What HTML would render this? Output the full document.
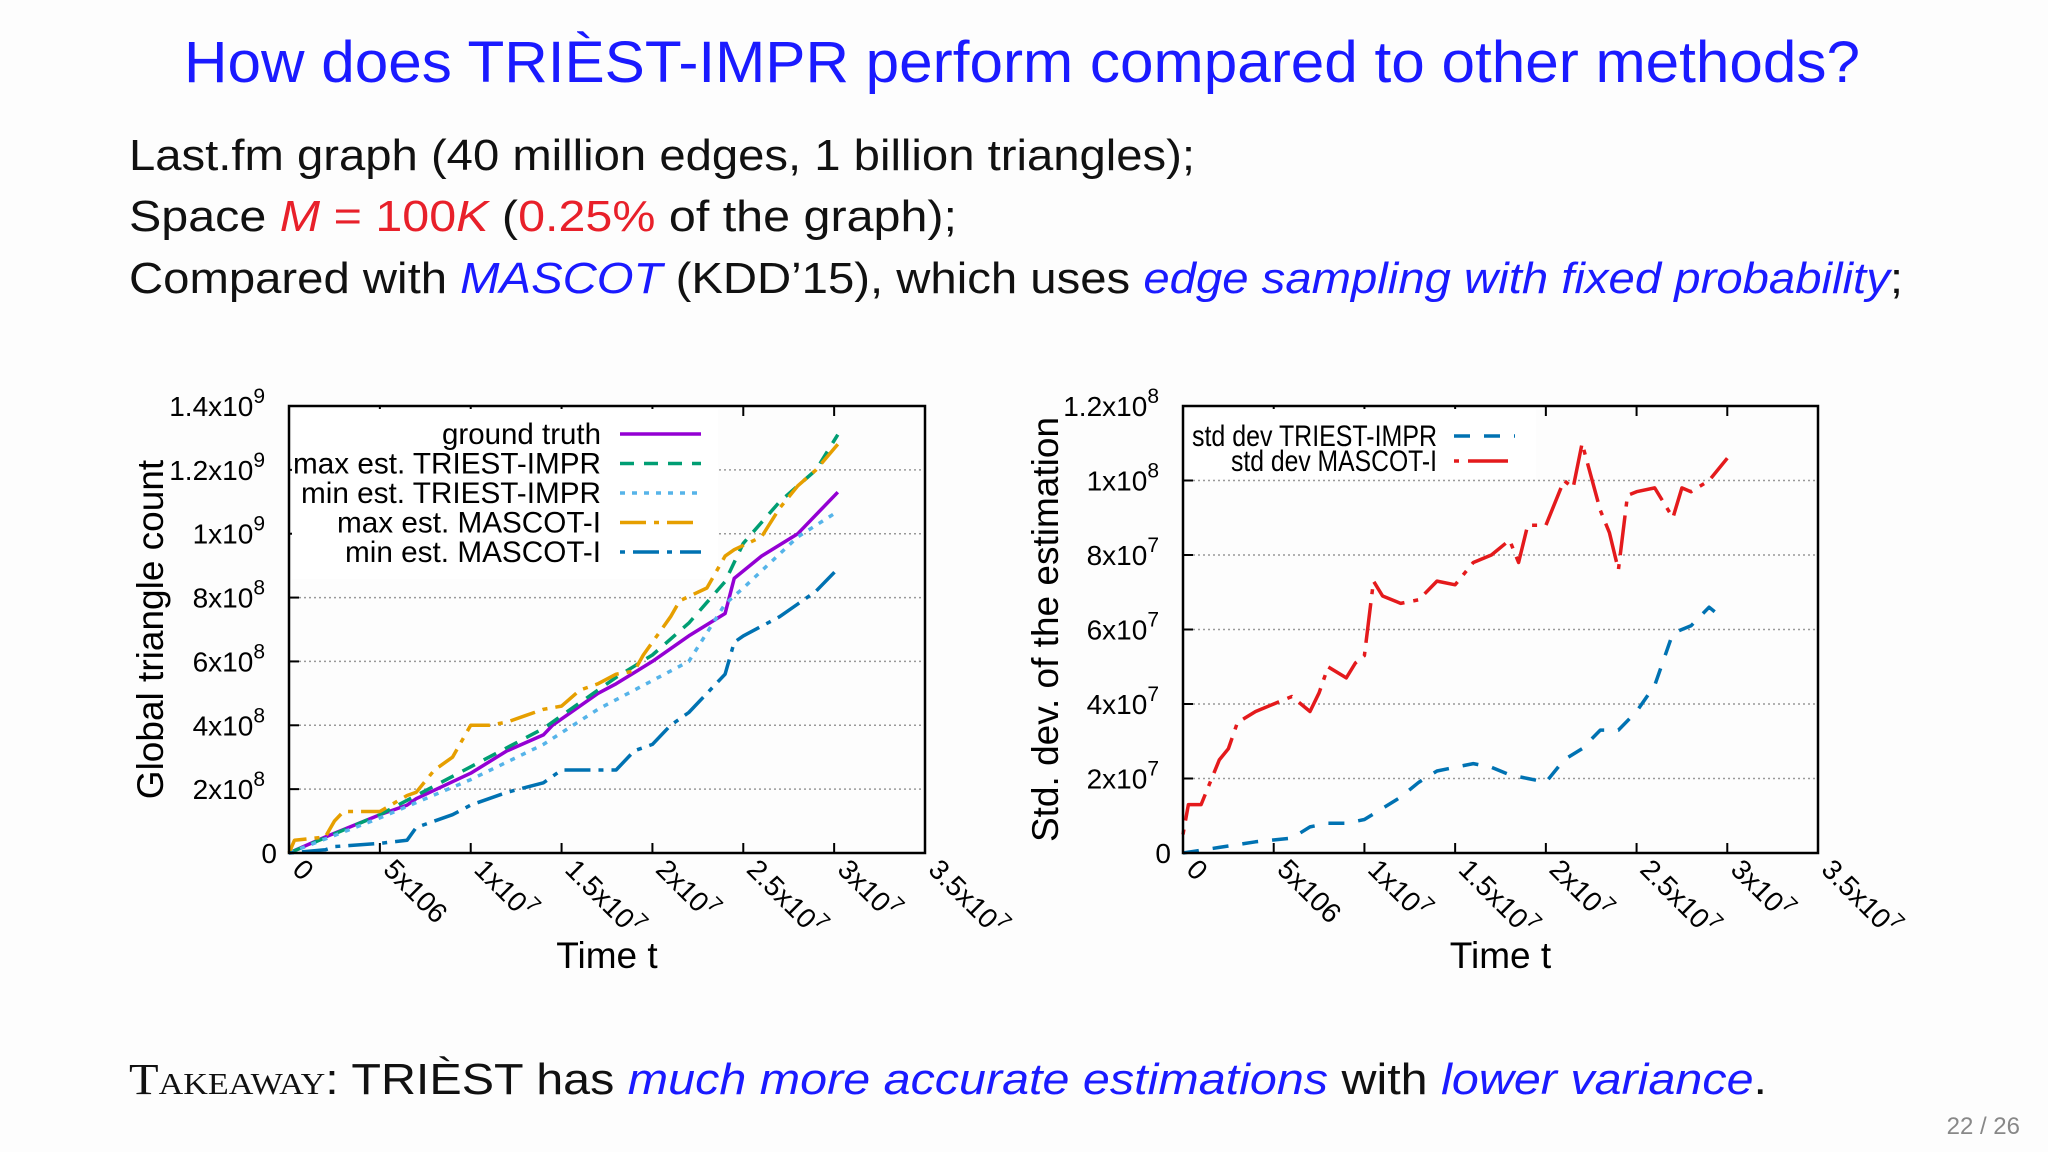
<!DOCTYPE html>
<html><head><meta charset="utf-8">
<style>
html,body{margin:0;padding:0;background:#fff;}
svg{display:block;}
text{font-family:"Liberation Sans",sans-serif;}
</style></head>
<body>
<svg id="slide" width="2048" height="1152" viewBox="0 0 2048 1152" xmlns="http://www.w3.org/2000/svg">
<rect width="2048" height="1152" fill="#fdfdfd"/>
<text x="184" y="82" font-size="58" fill="#1a1aff" textLength="1676" lengthAdjust="spacingAndGlyphs">How does TRIÈST-IMPR perform compared to other methods?</text>
<text x="129" y="170" font-size="44" fill="#111" textLength="1066" lengthAdjust="spacingAndGlyphs">Last.fm graph (40 million edges, 1 billion triangles);</text>
<text x="129" y="231" font-size="44" fill="#111" textLength="828" lengthAdjust="spacingAndGlyphs">Space <tspan fill="#e8202a" font-style="italic">M</tspan><tspan fill="#e8202a"> = 100</tspan><tspan fill="#e8202a" font-style="italic">K</tspan> (<tspan fill="#e8202a">0.25%</tspan> of the graph);</text>
<text x="129" y="293" font-size="44" fill="#111" textLength="1774" lengthAdjust="spacingAndGlyphs">Compared with <tspan fill="#1a1aff" font-style="italic">MASCOT</tspan> (KDD’15), which uses <tspan fill="#1a1aff" font-style="italic">edge sampling with fixed probability</tspan>;</text>
<text x="129" y="1094" font-size="44" fill="#111" textLength="1638" lengthAdjust="spacingAndGlyphs"><tspan font-family="Liberation Serif, serif" font-variant="small-caps">Takeaway</tspan>: TRIÈST has <tspan fill="#1a1aff" font-style="italic">much more accurate estimations</tspan> with <tspan fill="#1a1aff" font-style="italic">lower variance</tspan>.</text>
<text x="2020" y="1134" font-size="24" fill="#888" text-anchor="end">22 / 26</text>
<g id="left"></g>
<g id="right"></g>
</svg>
<script>
// Left chart data (time in units of 1e6, counts in 1e9)
const gtT = [0,2,5,6.5,7,10,12,14,14.5,17,18,20,22,24,24.5,26,28,30.2];
const gtV = [0,0.05,0.12,0.15,0.17,0.25,0.32,0.37,0.4,0.5,0.53,0.6,0.68,0.75,0.86,0.93,1.0,1.13];
const maxTrT = [0,5,10,14,16,18,20,22,24,25,27,29,30.2];
const maxTrV = [0,0.12,0.27,0.39,0.47,0.55,0.62,0.72,0.85,0.97,1.1,1.2,1.31];
const minTrT = [0,5,10,14,17,20,22,24,25,28,30.2];
const minTrV = [0,0.11,0.23,0.34,0.45,0.54,0.6,0.78,0.83,0.99,1.07];
const maxMaT = [0,0.3,2,2.5,3,5,6.5,7,8,9,10,11,12,13,14,15,16,17,18,19,19.5,21,21.5,23,24,24.5,26,27,28,29,30.2];
const maxMaV = [0,0.04,0.05,0.1,0.13,0.13,0.18,0.19,0.26,0.3,0.4,0.4,0.41,0.43,0.45,0.46,0.51,0.53,0.56,0.57,0.62,0.74,0.79,0.83,0.93,0.95,0.99,1.08,1.15,1.2,1.28];
const minMaT = [0,2,2.5,5,6.5,7,9,10,11,12,14,15,18,19,20,21,22,23,24,24.5,25,27,28,29,30.2];
const minMaV = [0,0.01,0.02,0.03,0.04,0.08,0.12,0.15,0.17,0.19,0.22,0.26,0.26,0.32,0.34,0.4,0.44,0.5,0.56,0.66,0.68,0.74,0.78,0.82,0.89];
const leftYTicks = [0,0.2,0.4,0.6,0.8,1.0,1.2,1.4];
const leftYLabels = [["0",""],["2x10","8"],["4x10","8"],["6x10","8"],["8x10","8"],["1x10","9"],["1.2x10","9"],["1.4x10","9"]];
// Right chart data (time 1e6, std dev 1e7)
const redT = [0,0.3,1,1.5,2,2.5,3,4,5,6,6.5,7,7.5,8,9,9.5,10,10.5,11,12,13,14,15,16,17,18,18.5,19,20,21,21.5,22,23,23.5,24,24.5,25,26,27,27.5,28,29,30];
const redV = [0.5,1.3,1.3,1.9,2.5,2.8,3.5,3.8,4.0,4.2,4.0,3.8,4.3,5.0,4.7,5.1,5.3,7.3,6.9,6.7,6.8,7.3,7.2,7.8,8.0,8.4,7.8,8.8,8.8,10.0,9.8,11.0,9.2,8.6,7.6,9.6,9.7,9.8,9.0,9.8,9.7,10.0,10.6];
const blueT = [0,2,4,6,7,8,9,10,11,12,13,14,15,16,17,18,19,20,21,22,23,24,25,26,27,28,29,29.5];
const blueV = [0,0.15,0.3,0.4,0.7,0.8,0.8,0.9,1.2,1.5,1.9,2.2,2.3,2.4,2.3,2.1,2.0,1.9,2.5,2.8,3.3,3.3,3.8,4.5,5.9,6.1,6.6,6.4];
const rightYTicks = [0,2,4,6,8,10,12];
const rightYLabels = [["0",""],["2x10","7"],["4x10","7"],["6x10","7"],["8x10","7"],["1x10","8"],["1.2x10","8"]];
const xTicks = [0,5,10,15,20,25,30,35];
const xLabels = [["0",""],["5x106",""],["1x10","7"],["1.5x10","7"],["2x10","7"],["2.5x10","7"],["3x10","7"],["3.5x10","7"]];

const NS = "http://www.w3.org/2000/svg";
function mk(tag, attrs, parent){const e=document.createElementNS(NS,tag);for(const k in attrs)e.setAttribute(k,attrs[k]);parent.appendChild(e);return e;}

function chart(g, box, yMax, yTicks, yLabels, yTitle, yTitleX, series, legend){
  const sx = t => box.x0 + (t/35)*(box.x1-box.x0);
  const sy = v => box.y1 - (v/yMax)*(box.y1-box.y0);
  yTicks.forEach((v,i)=>{
    if(i>0 && i<yTicks.length-1){
      const gl=mk('line',{x1:box.x0,x2:box.x1,y1:sy(v),y2:sy(v),stroke:'#999','stroke-width':1.5,'stroke-dasharray':'2,3'},g);
      
      
    }
    const tk=mk('line',{x1:box.x0,x2:box.x0+10,y1:sy(v),y2:sy(v),stroke:'#000','stroke-width':2},g);
    
    
    const tx=mk('text',{x:box.x0-12,y:sy(v)+10,'font-size':28,'text-anchor':'end',fill:'#000'},g);
    
    
    tx.textContent=yLabels[i][0];
    if(yLabels[i][1]){
      const sp=mk('tspan',{dy:-13,'font-size':21},tx); sp.textContent=yLabels[i][1];
      tx.setAttribute('x',box.x0-24);
    }
  });
  xTicks.forEach((t,i)=>{
    const tk=mk('line',{x1:sx(t),x2:sx(t),y1:box.y1,y2:box.y1-10,stroke:'#000','stroke-width':2},g);
    
    
    const tk2=mk('line',{x1:sx(t),x2:sx(t),y1:box.y0,y2:box.y0+10,stroke:'#000','stroke-width':2},g);
    
    
    const tx=mk('text',{x:0,y:0,'font-size':28,fill:'#000',transform:`translate(${sx(t)+2},${box.y1+18}) rotate(45)`},g);
    
    
    tx.textContent=xLabels[i][0];
    if(xLabels[i][1]){const sp=mk('tspan',{dy:-12,'font-size':21},tx); sp.textContent=xLabels[i][1];}
  });
  const xt=mk('text',{x:(box.x0+box.x1)/2,y:968,'font-size':37,'text-anchor':'middle',fill:'#000'},g);
  
  
  xt.textContent='Time t';
  const yt=mk('text',{x:0,y:0,'font-size':37,'text-anchor':'middle',fill:'#000',transform:`translate(${yTitleX},${(box.y0+box.y1)/2}) rotate(-90)`},g);
  
  
  yt.textContent=yTitle;
  const lb=mk('rect',{x:box.x0+3,y:box.y0+3,width:legend.w,height:legend.h,fill:'#fff'},g);
  
  
  series.forEach(s=>{
    const d=s.t.map((t,i)=>(i?'L':'M')+sx(t).toFixed(1)+','+sy(s.v[i]).toFixed(1)).join(' ');
    const p=mk('path',{d:d,fill:'none',stroke:s.color,'stroke-width':3.5,'stroke-dasharray':s.dash,'stroke-linejoin':'round'},g);
    
    
  });
  series.forEach((s,i)=>{
    const y=legend.y0+i*legend.dy;
    const lt=mk('text',{x:legend.tx-s.lw,y:y+10,'font-size':30,fill:'#000',textLength:s.lw,lengthAdjust:'spacingAndGlyphs'},g);
    
    
    lt.textContent=s.label;
    const ll=mk('line',{x1:legend.lx0,x2:legend.lx1,y1:y,y2:y,stroke:s.color,'stroke-width':3.5,'stroke-dasharray':s.dash},g);
    
    
  });
  const fr=mk('rect',{x:box.x0,y:box.y0,width:box.x1-box.x0,height:box.y1-box.y0,fill:'none',stroke:'#000','stroke-width':2.5},g);
  
  
}

chart(document.getElementById('left'),{x0:289,x1:925,y0:406,y1:853},1.4,leftYTicks,leftYLabels,'Global triangle count',163,
 [{t:gtT,v:gtV,color:'#9400d3',dash:'none',label:'ground truth',name:'ground-truth-line',lw:159},
  {t:maxTrT,v:maxTrV,color:'#009e73',dash:'14,10',label:'max est. TRIEST-IMPR',name:'max-triest-line',lw:308},
  {t:minTrT,v:minTrV,color:'#56b4e9',dash:'5,7',label:'min est. TRIEST-IMPR',name:'min-triest-line',lw:300},
  {t:maxMaT,v:maxMaV,color:'#e69f00',dash:'26,8,5,8',label:'max est. MASCOT-I',name:'max-mascot-line',lw:264},
  {t:minMaT,v:minMaV,color:'#0072b2',dash:'5,8,26,8',label:'min est. MASCOT-I',name:'min-mascot-line',lw:256}],
 {w:426,h:170,y0:434,dy:29.5,tx:601,lx0:620,lx1:701});

chart(document.getElementById('right'),{x0:1183,x1:1818,y0:406,y1:853},12,rightYTicks,rightYLabels,'Std. dev. of the estimation',1058,
 [{t:blueT,v:blueV,color:'#0072b2',dash:'16,14',label:'std dev TRIEST-IMPR',name:'std-triest-line',lw:245},
  {t:redT,v:redV,color:'#e41a1c',dash:'5,9,40,9',label:'std dev MASCOT-I',name:'std-mascot-line',lw:206}],
 {w:350,h:70,y0:436,dy:25,tx:1437,lx0:1454,lx1:1515});
</script>
</body></html>
